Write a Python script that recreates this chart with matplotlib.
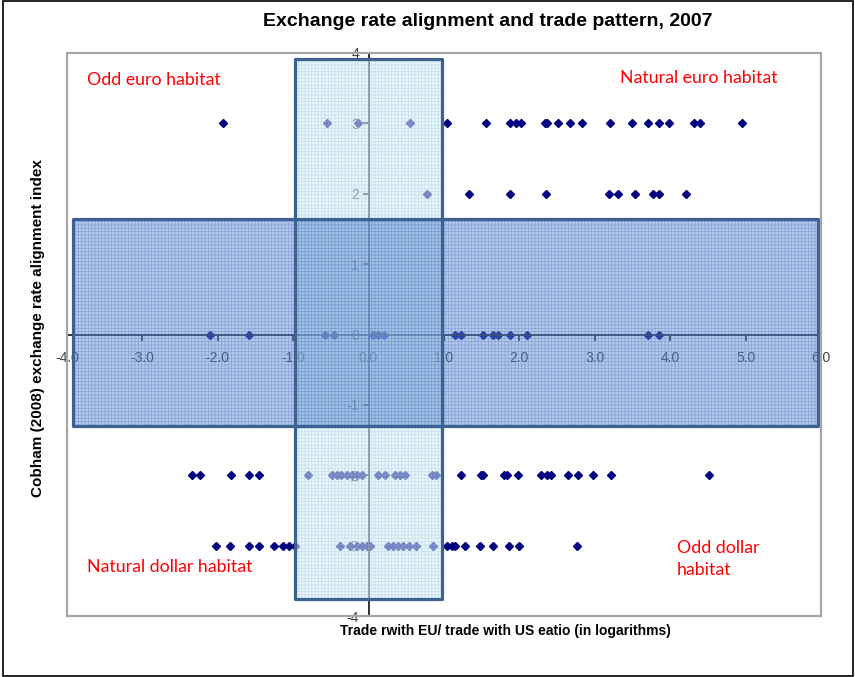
import matplotlib
matplotlib.use("Agg")
import matplotlib.pyplot as plt
from matplotlib.patches import Rectangle

# ---------------------------------------------------------------------
# Datos: ratio comercio (log) por nivel del índice de alineación
# ---------------------------------------------------------------------
x_row_3 = [-1.93, -0.55, -0.14, 0.55, 1.04, 1.56, 1.87, 1.95, 2.02, 2.34,
           2.37, 2.51, 2.67, 2.83, 3.20, 3.49, 3.71, 3.85, 3.99, 4.32,
           4.40, 4.95]
x_row_2 = [0.77, 1.33, 1.87, 2.35, 3.19, 3.31, 3.53, 3.77, 3.85, 4.21]
x_row_0 = [-2.11, -1.59, -0.58, -0.46, 0.06, 0.13, 0.21, 1.15, 1.23, 1.52,
           1.65, 1.71, 1.87, 2.10, 3.71, 3.85]
x_row_m2 = [-2.34, -2.23, -1.83, -1.58, -1.46, -0.80, -0.48, -0.42, -0.36,
            -0.29, -0.22, -0.16, -0.09, 0.13, 0.22, 0.35, 0.42, 0.48, 0.84,
            0.90, 1.22, 1.49, 1.52, 1.79, 1.83, 1.98, 2.29, 2.36, 2.42,
            2.65, 2.78, 2.98, 3.22, 4.52]
x_row_m3 = [-2.03, -1.84, -1.59, -1.46, -1.26, -1.13, -1.06, -0.97, -0.38,
            -0.25, -0.16, -0.09, -0.02, 0.02, 0.26, 0.33, 0.39, 0.46, 0.53,
            0.63, 0.86, 1.04, 1.10, 1.15, 1.28, 1.48, 1.65, 1.86, 2.00, 2.77]
rows = {3: x_row_3, 2: x_row_2, 0: x_row_0, -2: x_row_m2, -3: x_row_m3}

x_ticks = [-4, -3, -2, -1, 0, 1, 2, 3, 4, 5, 6]
y_ticks = [-4, -3, -2, -1, 0, 1, 2, 3, 4]

# zonas sombreadas (x0, x1, y0, y1)
caja_vertical = (-0.97, 0.97, -3.76, 3.91)
caja_horizontal = (-3.92, 5.96, -1.30, 1.64)

plt.rcParams["font.family"] = ["Liberation Sans", "DejaVu Sans"]
plt.rcParams["hatch.linewidth"] = 0.6

fig = plt.figure(figsize=(8.55, 6.77), dpi=100)
ax = fig.add_axes([67 / 855, 61 / 677, 754 / 855, 563 / 677])
ax.set_xlim(-4, 6)
ax.set_ylim(-4, 4)

# ejes cruzando en el origen
ax.spines["left"].set_position(("data", 0))
ax.spines["bottom"].set_position(("data", 0))
ax.spines["top"].set_visible(False)
ax.spines["right"].set_visible(False)
for s in ("left", "bottom"):
    ax.spines[s].set_color("#202020")
    ax.spines[s].set_linewidth(1.3)

ax.set_xticks(x_ticks)
ax.set_xticklabels([f"{v:.1f}" for v in x_ticks])
ax.set_yticks(y_ticks)
ax.set_yticklabels([str(v) for v in y_ticks])
ax.tick_params(axis="x", direction="out", length=4, width=1.2, pad=8,
               labelsize=10, labelcolor="#404040", color="#202020")
ax.tick_params(axis="y", direction="out", length=4, width=1.2, pad=3,
               labelsize=10, labelcolor="#404040", color="#202020")

# puntos
for yv, xs in rows.items():
    ax.plot(xs, [yv] * len(xs), linestyle="none", marker="D", markersize=4.2,
            color="#000080", zorder=2)


def caja(ext, fill, hatch_col, edge):
    x0, x1, y0, y1 = ext
    ax.add_patch(Rectangle((x0, y0), x1 - x0, y1 - y0, facecolor=fill,
                           edgecolor="none", zorder=4))
    ax.add_patch(Rectangle((x0, y0), x1 - x0, y1 - y0, facecolor="none",
                           edgecolor=hatch_col, lw=0, hatch="+++++", zorder=4))
    ax.add_patch(Rectangle((x0, y0), x1 - x0, y1 - y0, facecolor="none",
                           edgecolor=edge, lw=2.3, zorder=5, joinstyle="round"))


caja(caja_vertical, (213 / 255, 237 / 255, 245 / 255, 0.54),
     (150 / 255, 190 / 255, 225 / 255, 0.35), "#3d6190")
caja(caja_horizontal, (90 / 255, 140 / 255, 208 / 255, 0.46),
     (45 / 255, 90 / 255, 180 / 255, 0.32), "#3d6190")

# marco gris del área de trazado
ax.add_patch(Rectangle((0, 0), 1, 1, transform=ax.transAxes, fill=False,
                       edgecolor="#a6a6a6", lw=1.6, clip_on=False, zorder=6))

# etiquetas de cuadrantes
rojo = dict(color="#ff0000", fontsize=12.8, family=["Lato", "DejaVu Sans"],
            va="center", ha="left", zorder=7)
ax.text(-3.73, 3.61, "Odd euro habitat", **rojo)
ax.text(3.34, 3.64, "Natural euro habitat", **rojo)
ax.text(-3.73, -3.30, "Natural dollar habitat", **rojo)
ax.text(4.09, -3.19, "Odd dollar\nhabitat", linespacing=1.45, **rojo)

fig.text(488 / 855, 1 - 22 / 677, "Exchange rate alignment and trade pattern, 2007",
         ha="center", va="center", fontsize=14, fontweight="bold")
fig.text(505 / 855, 1 - 631 / 677,
         "Trade rwith EU/ trade with US eatio (in logarithms)",
         ha="center", va="center", fontsize=10, fontweight="bold")
fig.text(38 / 855, 1 - 328 / 677, "Cobham (2008) exchange rate alignment index",
         ha="center", va="center", rotation=90, fontsize=11, fontweight="bold")

# marco exterior
fig.add_artist(Rectangle((0.004, 0.002), 0.994, 0.996, transform=fig.transFigure,
                         fill=False, edgecolor="black", lw=1.2))

fig.savefig("out.png", dpi=100)
